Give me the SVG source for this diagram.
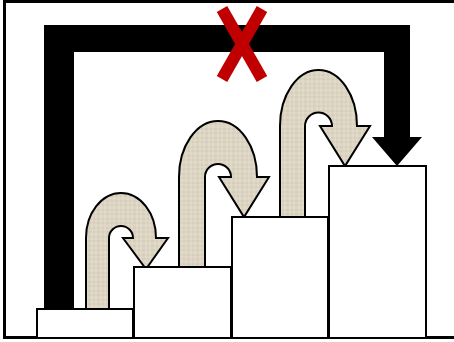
<svg xmlns="http://www.w3.org/2000/svg" width="454" height="342" viewBox="0 0 454 342">
<defs>
<pattern id="linen" width="9" height="9" patternUnits="userSpaceOnUse">
<rect width="9" height="9" fill="#DDD5C3"/>
<path d="M0 3H9M0 7H9" stroke="#D0C7B2" stroke-width="1"/>
<path d="M2 0V9M6 0V9" stroke="#E6DFD0" stroke-width="1"/>
</pattern>
<style>
.step{fill:#FFFFFF;stroke:#000000;stroke-width:2}
.uturn{fill:url(#linen);stroke:#000000;stroke-width:2;stroke-linejoin:miter}
.cross{stroke:#C00000;stroke-width:12}
</style>
</defs>
<rect x="4.5" y="1.5" width="460" height="336" fill="#FFFFFF" stroke="#000000" stroke-width="3"/>
<g id="connectors">
<path id="bypass" d="M44 309 L44 25 L410 25 L410 137 L422 137 L397 166 L372 137 L384 137 L384 52 L74 52 L74 309 Z" fill="#000000"/>
<path id="uturn1" class="uturn" d="M86 309 L86 238 A35 45 0 0 1 156 238 L168 238 L146 269 L123 238 L133 238 A12 12 0 0 0 109 238 L109 309 Z"/>
<path id="uturn2" class="uturn" d="M179 267 L179 177 A39 56 0 0 1 257 177 L269 177 L244 217 L219 177 L231 177 A13 13 0 0 0 205 177 L205 267 Z"/>
<path id="uturn3" class="uturn" d="M280 217 L280 126 A38.5 56 0 0 1 357 126 L370 126 L345 166 L320 126 L332 126 A13.5 13.5 0 0 0 305 126 L305 217 Z"/>
</g>
<g id="step1"><rect class="step" x="37" y="309" width="96" height="29"/></g>
<g id="step2"><rect class="step" x="134" y="267" width="97" height="71"/></g>
<g id="step3"><rect class="step" x="232" y="217" width="96" height="121"/></g>
<g id="step4"><rect class="step" x="329" y="166" width="97" height="172"/></g>
<g id="cross">
<line class="cross" x1="222" y1="9" x2="262" y2="79"/>
<line class="cross" x1="262" y1="9" x2="222" y2="79"/>
</g>
</svg>
